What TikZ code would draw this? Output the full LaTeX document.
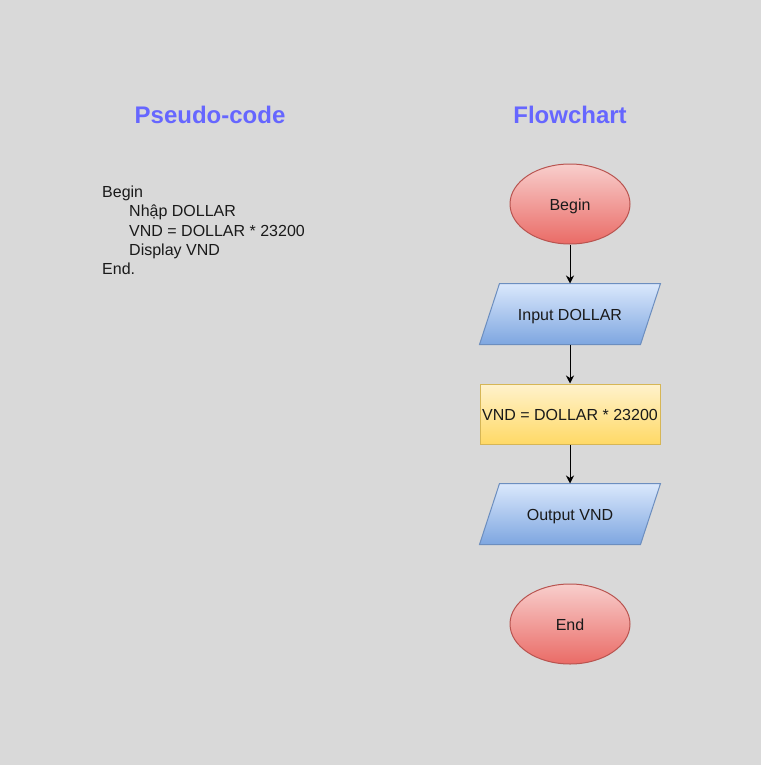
\documentclass[tikz,border=0pt]{standalone}
\usepackage{fontspec}
\setmainfont{Liberation Sans}
\usetikzlibrary{shapes.geometric,arrows.meta}
\pgfdeclarelayer{bgl}
\pgfsetlayers{bgl,main}
\definecolor{bg}{HTML}{D9D9D9}
\definecolor{titleblue}{HTML}{6666FF}
\definecolor{txt}{HTML}{1A1A1A}
\definecolor{redtop}{HTML}{F8CECC}
\definecolor{redbot}{HTML}{EA6B66}
\definecolor{redline}{HTML}{B85450}
\definecolor{bluetop}{HTML}{DAE8FC}
\definecolor{bluebot}{HTML}{7EA6E0}
\definecolor{blueline}{HTML}{6C8EBF}
\definecolor{yeltop}{HTML}{FFF2CC}
\definecolor{yelbot}{HTML}{FFD966}
\definecolor{yelline}{HTML}{D6B656}
\tikzset{
  base/.style={font=\fontsize{16}{19.2}\selectfont, text=txt, inner sep=0pt, line width=1pt, text depth=0pt, text height=12.5pt},
  terminal/.style={base, ellipse, draw=redline, top color=redtop, bottom color=redbot, minimum width=120pt, minimum height=80pt},
  io/.style={base, rectangle, minimum width=180pt, minimum height=60pt},
  ioshape/.style={draw=blueline, line width=1pt, top color=bluetop, bottom color=bluebot},
  process/.style={base, rectangle, draw=yelline, top color=yeltop, bottom color=yelbot, minimum width=180pt, minimum height=60pt},
  title/.style={font=\fontsize{24}{28}\selectfont\bfseries, text=titleblue, inner sep=0pt},
  flow/.style={line width=1pt, -{Stealth[length=8pt,width=8pt,inset=2.5pt]}}
}
\newcommand{\paral}[1]{%
  \begin{pgfonlayer}{bgl}
  \path[ioshape] ([xshift=20pt]#1.north west) -- (#1.north east) -- ([xshift=-20pt]#1.south east) -- (#1.south west) -- cycle;
  \end{pgfonlayer}}
\begin{document}
\begin{tikzpicture}[x=1pt,y=-1pt]
\begin{pgfonlayer}{bgl}
\fill[bg] (0,0) rectangle (761,765);
\end{pgfonlayer}
\useasboundingbox (0,0) rectangle (761,765);
\node[title] (t1) at (210,115) {Pseudo-code};
\node[title] (t2) at (570,115) {Flowchart};
\node[font=\fontsize{16}{19.2}\selectfont, text=txt, inner sep=0pt, anchor=north west, align=left] (code) at (102,186) {Begin\\\hspace*{27pt}Nhập DOLLAR\\\hspace*{27pt}VND = DOLLAR * 23200\\\hspace*{27pt}Display VND\\End.};
\node[terminal] (begin) at (570,204) {Begin};
\node[io] (input) at (570,314) {Input DOLLAR};
\paral{input}
\node[process] (calc) at (570,414) {VND = DOLLAR * 23200};
\node[io] (output) at (570,514) {Output VND};
\paral{output}
\node[terminal] (end) at (570,624) {End};
\draw[flow] (begin) -- (input);
\draw[flow] (input) -- (calc);
\draw[flow] (calc) -- (output);
\end{tikzpicture}
\end{document}
